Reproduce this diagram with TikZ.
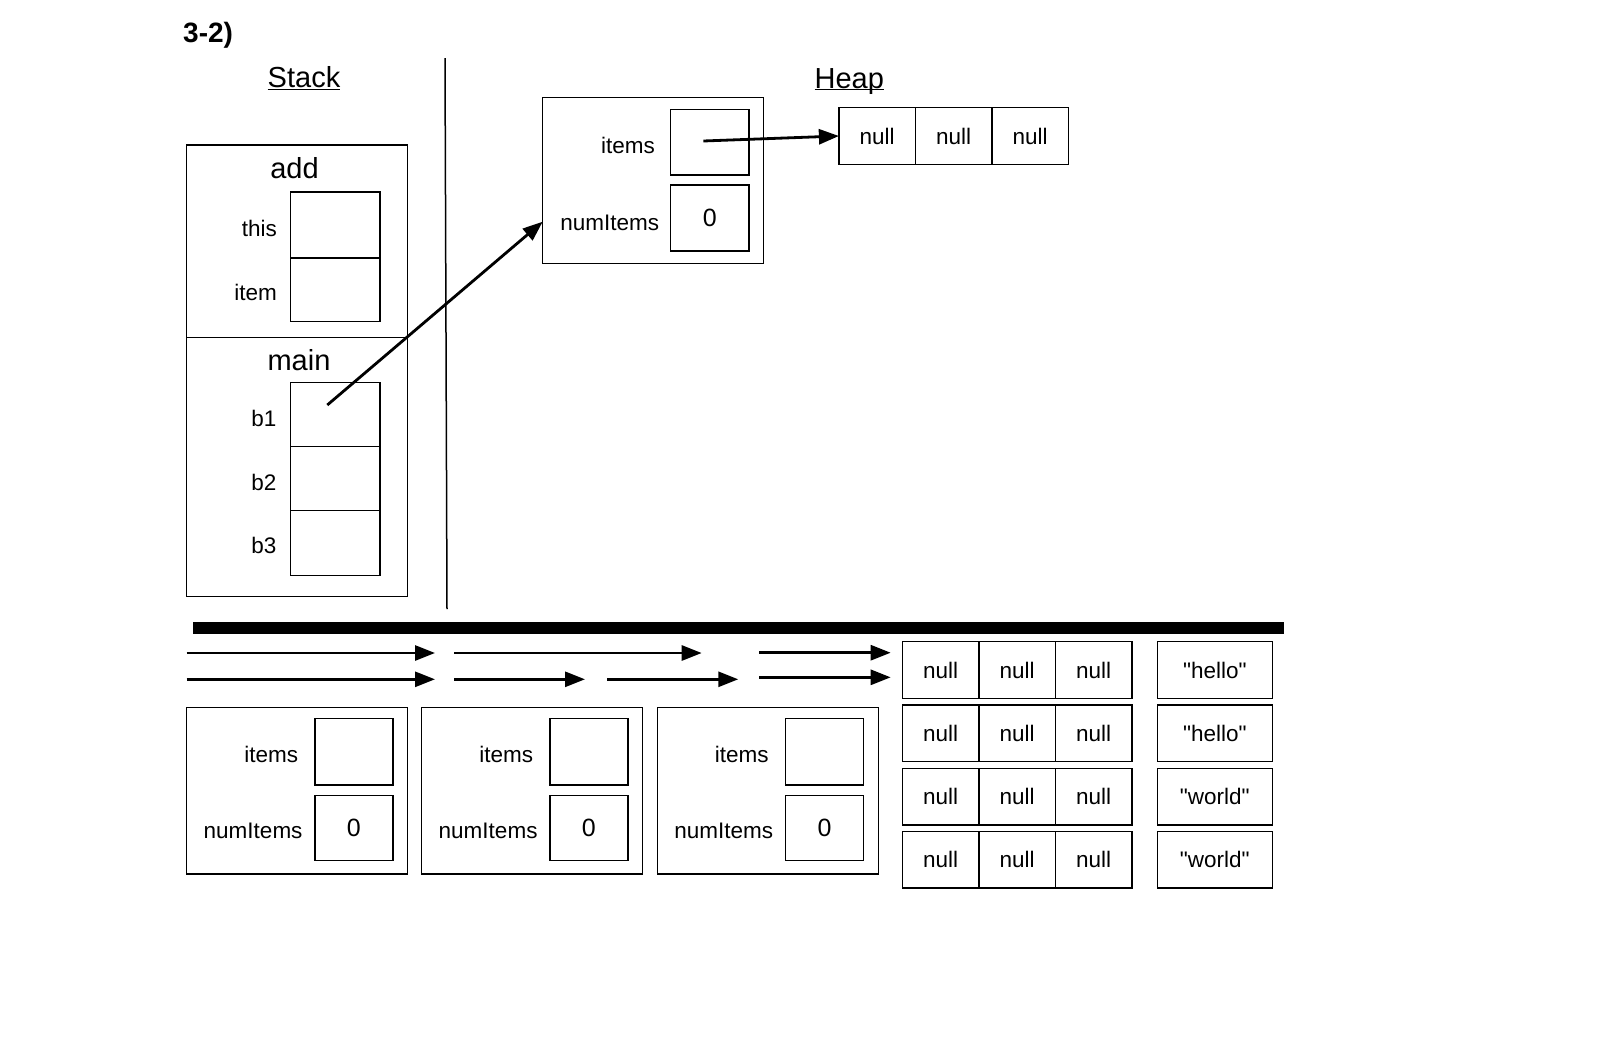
\documentclass[tikz,border=0pt]{standalone}
\usepackage{fontspec}
\setmainfont{Liberation Sans}[Ligatures=TeXOff]
\usetikzlibrary{arrows.meta,positioning}

\newcommand{\lblfont}{\fontsize{22.5}{27}\selectfont}
\newcommand{\numfont}{\fontsize{25}{30}\selectfont}
\newcommand{\headfont}{\fontsize{29}{34}\selectfont}

\begin{document}
\begin{tikzpicture}[x=1pt,y=-1pt,>={Triangle[length=20pt,width=15pt]},font=\lblfont]
	\tikzstyle{frame} = [draw, rectangle, line width=1.5pt, inner sep=0pt, outer sep=0pt]
	\tikzstyle{slot} = [draw, rectangle, line width=1.5pt, inner sep=0pt, outer sep=0pt, minimum width=78.3pt, font=\numfont]
	\tikzstyle{var} = [slot, minimum width=89.5pt]
	\tikzstyle{cell} = [draw, rectangle, line width=1.5pt, inner sep=0pt, outer sep=0pt, minimum width=76.5pt, minimum height=56.6pt]
	\tikzstyle{strcell} = [cell, minimum width=115pt]
	\tikzstyle{lbl} = [inner sep=0pt, anchor=base east]
	\tikzstyle{head} = [inner sep=0pt, anchor=base, font=\headfont]
	\tikzstyle{ptr} = [->, line width=2.8pt]

	\useasboundingbox (0,0) rectangle (1610,1058);

	\node [inner sep=0pt, anchor=base west, font=\fontsize{28}{33}\selectfont\bfseries] (title) at (183,42.7) {3-2)};
	\node [head] (stack) at (304,87.5) {\underline{Stack}};
	\node [head] (heap) at (849.3,88) {\underline{Hea\smash{p}}};

	% stack frames
	\node [frame, minimum width=220.6pt, minimum height=192.5pt] (add) at (297,241.25) {};
	\node [frame, minimum width=220.6pt, minimum height=259.2pt] (main) at (297,467.1) {};
	\node [head] (addlbl) at (294.5,178) {add};
	\node [head] (mainlbl) at (299,370) {main};

	\node [var, minimum height=66pt] (this) at (335.4,225) {};
	\node [var, minimum height=63.7pt, below=0pt of this] (item) {};
	\node [var, minimum height=64pt] (b1) at (335.4,414.7) {};
	\node [var, minimum height=64pt, below=0pt of b1] (b2) {};
	\node [var, minimum height=65pt, below=0pt of b2] (b3) {};

	\node [lbl] (thislbl) at (277,236.7) {this};
	\node [lbl] (itemlbl) at (277,300) {item};
	\node [lbl] (b1lbl) at (276.7,426.7) {b1};
	\node [lbl] (b2lbl) at (276.7,490.7) {b2};
	\node [lbl] (b3lbl) at (276.7,553.3) {b3};

	% heap object
	\node [frame, minimum width=220.6pt, minimum height=165.6pt] (hobj) at (653,180.5) {};
	\node [slot, minimum height=65.7pt] (hitems) at (709.85,142.15) {};
	\node [slot, minimum height=66pt] (hnum) at (709.85,218) {0};
	\node [lbl] (hitemslbl) at (655,153.3) {items};
	\node [lbl] (hnumlbl) at (659.3,230) {numItems};

	\node [cell] (h1) at (877.15,136) {null};
	\node [cell, right=0pt of h1] (h2) {null};
	\node [cell, right=0pt of h2] (h3) {null};

	\coordinate (dtop) at (445,58);
	\coordinate (dbot) at (447,609);
	\coordinate (b1ptr) at (327.3,405);
	\coordinate (hin) at (542.7,221.7);
	\coordinate (itemsptr) at (703.3,141);

	\draw [line width=1.5pt] (dtop) -- (dbot);
	\draw [ptr] (b1ptr) -- (hin);
	\draw [ptr] (itemsptr) -- (h1.west);

	% lower part
	\coordinate (barl) at (193.3,627.8);
	\coordinate (barr) at (1284,627.8);
	\draw [line width=12.5pt] (barl) -- (barr);

	\node [frame, minimum width=221pt, minimum height=166.3pt] (obj1) at (297.2,790.85) {};
	\node [slot, minimum height=66.7pt] (items1) at (353.9,751.65) {};
	\node [slot, minimum height=65pt] (num1) at (353.9,828.2) {0};
	\node [lbl] (items1lbl) at (298.3,762.7) {items};
	\node [lbl] (num1lbl) at (302.7,838) {numItems};

	\node [frame, minimum width=221pt, minimum height=166.3pt] (obj2) at (532.2,790.85) {};
	\node [slot, minimum height=66.7pt] (items2) at (588.9,751.65) {};
	\node [slot, minimum height=65pt] (num2) at (588.9,828.2) {0};
	\node [lbl] (items2lbl) at (533.3,762.7) {items};
	\node [lbl] (num2lbl) at (537.7,838) {numItems};

	\node [frame, minimum width=221pt, minimum height=166.3pt] (obj3) at (767.8,790.85) {};
	\node [slot, minimum height=66.7pt] (items3) at (824.5,751.65) {};
	\node [slot, minimum height=65pt] (num3) at (824.5,828.2) {0};
	\node [lbl] (items3lbl) at (768.9,762.7) {items};
	\node [lbl] (num3lbl) at (773.3,838) {numItems};

	\node [cell] (a11) at (940.7,670) {null};
	\node [cell, right=0pt of a11] (a12) {null};
	\node [cell, right=0pt of a12] (a13) {null};
	\node [cell, below=6.7pt of a11] (a21) {null};
	\node [cell, right=0pt of a21] (a22) {null};
	\node [cell, right=0pt of a22] (a23) {null};
	\node [cell, below=6.7pt of a21] (a31) {null};
	\node [cell, right=0pt of a31] (a32) {null};
	\node [cell, right=0pt of a32] (a33) {null};
	\node [cell, below=6.7pt of a31] (a41) {null};
	\node [cell, right=0pt of a41] (a42) {null};
	\node [cell, right=0pt of a42] (a43) {null};

	\node [strcell] (s1) at (1214.8,670) {"hello"};
	\node [strcell, below=6.7pt of s1] (s2) {"hello"};
	\node [strcell, below=6.7pt of s2] (s3) {"world"};
	\node [strcell, below=6.7pt of s3] (s4) {"world"};

	\coordinate (p1s) at (186.7,653);
	\coordinate (p1e) at (435,653);
	\coordinate (p2s) at (454,653);
	\coordinate (p2e) at (701.7,653);
	\coordinate (p3s) at (759.3,652.7);
	\coordinate (p3e) at (890.7,652.7);
	\coordinate (q1s) at (186.7,679.3);
	\coordinate (q1e) at (435,679.3);
	\coordinate (q2s) at (454,679.3);
	\coordinate (q2e) at (585,679.3);
	\coordinate (q3s) at (607.3,679.3);
	\coordinate (q3e) at (738.3,679.3);
	\coordinate (q4s) at (759.3,677.3);
	\coordinate (q4e) at (890.7,677.3);

	\draw [ptr] (p1s) -- (p1e);
	\draw [ptr] (p2s) -- (p2e);
	\draw [ptr] (p3s) -- (p3e);
	\draw [ptr] (q1s) -- (q1e);
	\draw [ptr] (q2s) -- (q2e);
	\draw [ptr] (q3s) -- (q3e);
	\draw [ptr] (q4s) -- (q4e);

\end{tikzpicture}
\end{document}
